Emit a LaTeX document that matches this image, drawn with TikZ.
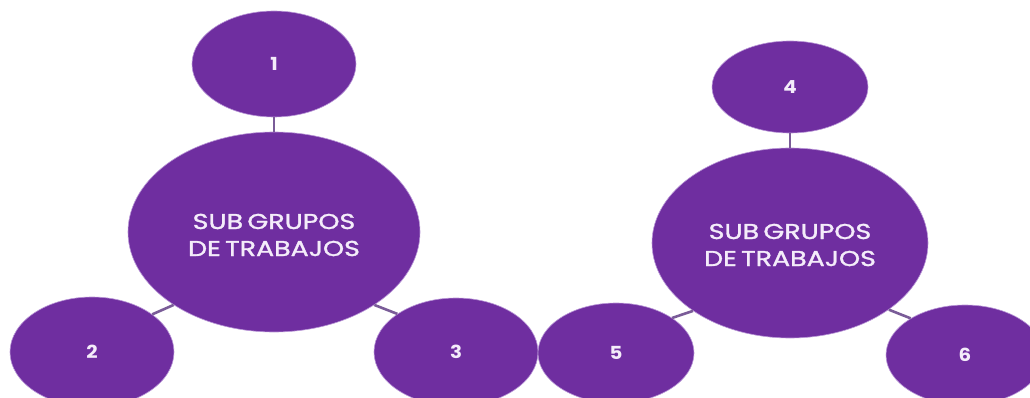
\documentclass[tikz,border=0pt]{standalone}
\usepackage{fontspec}
\setmainfont{Poppins}
\newfontfamily\widefont[FakeStretch=1.25,FakeBold=1.5,WordSpace=0.6]{Poppins}
\newfontfamily\numfont[FakeStretch=1.1]{Poppins}
\usetikzlibrary{shapes.geometric}
\definecolor{bubble}{RGB}{111,46,160}
\definecolor{bubbleedge}{RGB}{185,150,215}
\definecolor{linkcol}{RGB}{122,92,152}
\definecolor{txt}{RGB}{244,236,250}
\tikzset{
  bub/.style={ellipse, fill=bubble, draw=bubbleedge, line width=0.6pt, inner sep=0pt, text=txt},
  numbub/.style={bub, font=\numfont\bfseries\fontsize{18}{20}\selectfont},
  bigbub/.style={bub, align=center, font=\widefont\fontsize{21.5}{27}\selectfont},
  link/.style={draw=linkcol, line width=2.6pt}
}
\begin{document}
\begin{tikzpicture}[x=1pt,y=-1pt]
\clip (0,0) rectangle (1030,398);
\useasboundingbox (0,0) rectangle (1030,398);
\fill[white] (0,0) rectangle (1030,398);
% left cluster
\node[bigbub, minimum width=292pt, minimum height=200pt] (L) at (274,232) {};
\node[bigbub, fill=none, draw=none] (Ltext) at (274,235) {SUB GRUPOS\\DE TRABAJOS};
\node[numbub, minimum width=164pt, minimum height=106pt] (s1) at (274,64) {1};
\node[numbub, minimum width=164pt, minimum height=110pt] (s2) at (92,352) {2};
\node[numbub, minimum width=164pt, minimum height=108pt] (s3) at (456,352) {3};
% right cluster
\node[bigbub, minimum width=276pt, minimum height=190pt] (R) at (790,243) {};
\node[bigbub, fill=none, draw=none] (Rtext) at (790,245) {SUB GRUPOS\\DE TRABAJOS};
\node[numbub, minimum width=156pt, minimum height=92pt] (s4) at (790,87) {4};
\node[numbub, minimum width=156pt, minimum height=100pt] (s5) at (616,353) {5};
\node[numbub, minimum width=158pt, minimum height=100pt] (s6) at (965,355) {6};
% connectors
\draw[link] (L.north) -- (s1.south);
\draw[link] (L.216) -- (s2.32);
\draw[link] (L.324) -- (s3.147);
\draw[link] (R.north) -- (s4.south);
\draw[link] (R.215) -- (s5.32);
\draw[link] (R.326) -- (s6.146);
\end{tikzpicture}
\end{document}
